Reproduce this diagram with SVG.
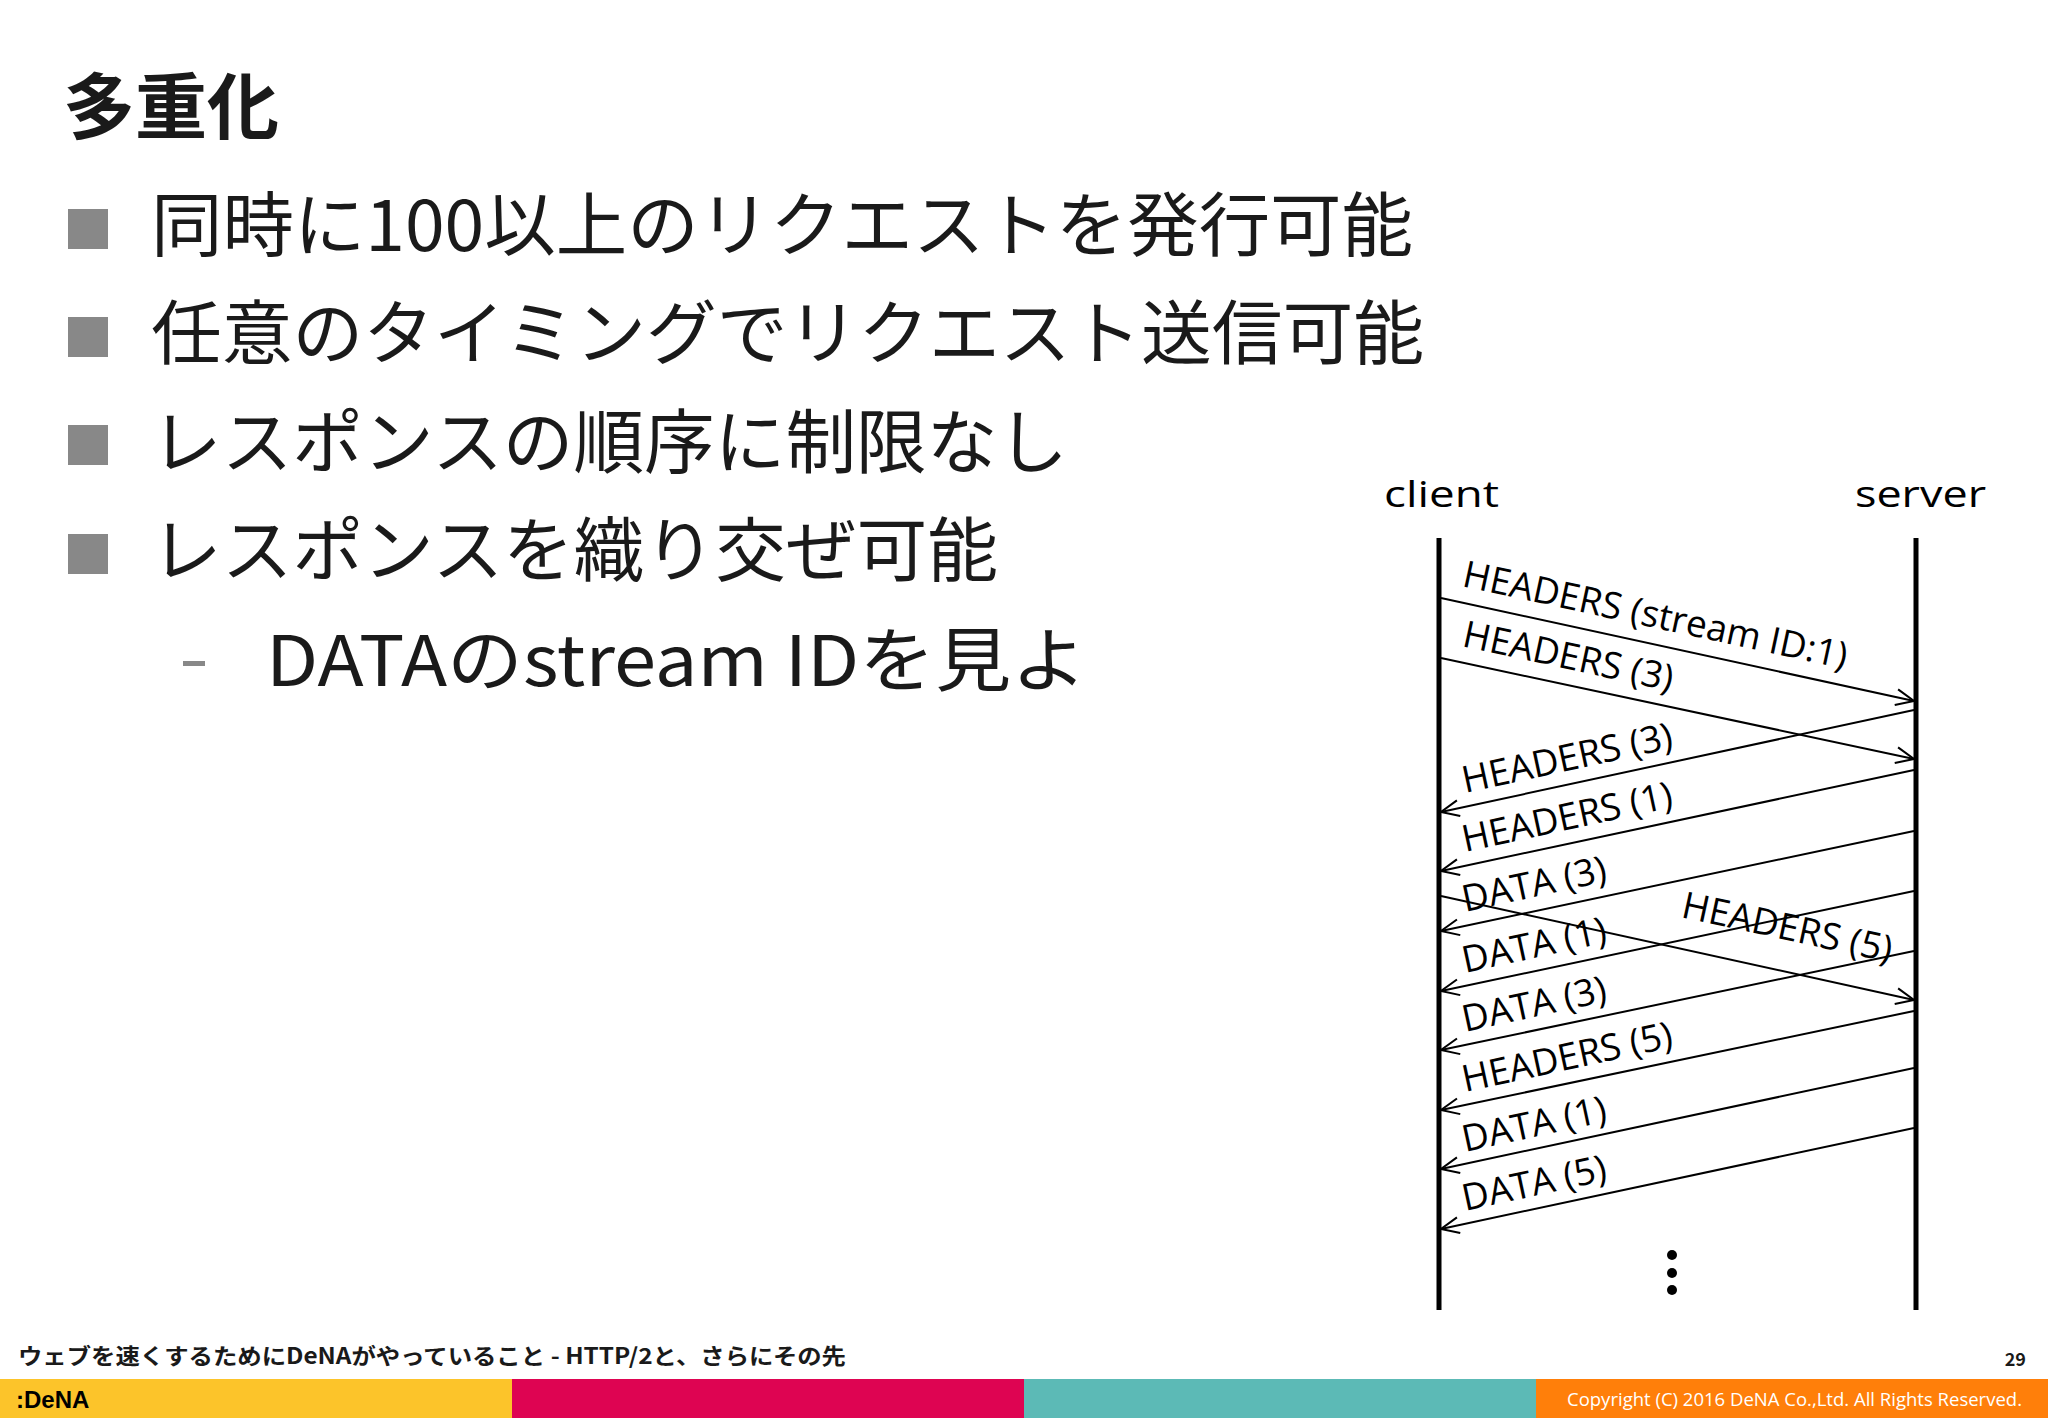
<svg xmlns="http://www.w3.org/2000/svg" width="2048" height="1418" viewBox="0 0 2048 1418">
<defs>
<style>
.jp{font-family:"Noto Sans CJK JP","Noto Sans",sans-serif;fill:#1a1a1a}
.b{font-size:70px}
.lbl{font-family:"Open Sans","Noto Sans",sans-serif;font-size:37px;fill:#000}
.ln{stroke:#000;stroke-width:2;fill:none;marker-end:url(#ah)}
.life{stroke:#000;stroke-width:5}
</style>
<marker id="ah" viewBox="0 0 20 20" refX="19" refY="10" markerWidth="20" markerHeight="20" markerUnits="userSpaceOnUse" orient="auto">
<path d="M1,2 L19,10 L1,18" fill="none" stroke="#000" stroke-width="2"/>
</marker>
</defs>
<rect width="2048" height="1418" fill="#fff"/>
<text class="jp" x="63" y="133" font-size="72" font-weight="bold" fill="#000">多重化</text>
<g id="bullets" class="jp">
<rect x="68" y="209" width="40" height="40" fill="#888"/>
<text class="jp b" x="151" y="251" textLength="1262" lengthAdjust="spacingAndGlyphs">同時に100以上のリクエストを発行可能</text>
<rect x="68" y="317" width="40" height="40" fill="#888"/>
<text class="jp b" x="151" y="359" textLength="1273" lengthAdjust="spacingAndGlyphs">任意のタイミングでリクエスト送信可能</text>
<rect x="68" y="425" width="40" height="40" fill="#888"/>
<text class="jp b" x="151" y="468" textLength="917" lengthAdjust="spacingAndGlyphs">レスポンスの順序に制限なし</text>
<rect x="68" y="534" width="40" height="40" fill="#888"/>
<text class="jp b" x="151" y="576" textLength="847" lengthAdjust="spacingAndGlyphs">レスポンスを織り交ぜ可能</text>
<rect x="183" y="661" width="22" height="5" fill="#888"/>
<text class="jp b" x="266" y="686" textLength="821" lengthAdjust="spacingAndGlyphs">DATAのstream IDを見よ</text>
</g>
<g id="client"><text class="lbl" x="1384" y="507" font-size="48" textLength="115" lengthAdjust="spacingAndGlyphs">client</text><line class="life" x1="1439" y1="538" x2="1439" y2="1310"/></g>
<g id="server"><text class="lbl" x="1855" y="507" font-size="48" textLength="131" lengthAdjust="spacingAndGlyphs">server</text><line class="life" x1="1916" y1="538" x2="1916" y2="1310"/></g>
<g id="connectors">
<line class="ln" x1="1441" y1="598" x2="1914" y2="701"/>
<line class="ln" x1="1441" y1="658" x2="1914" y2="759"/>
<line class="ln" x1="1914" y1="710" x2="1441" y2="812"/>
<line class="ln" x1="1914" y1="770" x2="1441" y2="871"/>
<line class="ln" x1="1914" y1="831" x2="1441" y2="931"/>
<line class="ln" x1="1441" y1="896" x2="1914" y2="1000"/>
<line class="ln" x1="1914" y1="891" x2="1441" y2="991"/>
<line class="ln" x1="1914" y1="951" x2="1441" y2="1050"/>
<line class="ln" x1="1914" y1="1011" x2="1441" y2="1110"/>
<line class="ln" x1="1914" y1="1068" x2="1441" y2="1169"/>
<line class="ln" x1="1914" y1="1128" x2="1441" y2="1229"/>
</g>
<g id="labels">
<text class="lbl" transform="translate(1461,586) rotate(12.2)">HEADERS (stream ID:1)</text>
<text class="lbl" transform="translate(1461,646) rotate(12.2)">HEADERS (3)</text>
<text class="lbl" transform="translate(1465,793) rotate(-12.2)">HEADERS (3)</text>
<text class="lbl" transform="translate(1465,852) rotate(-12.2)">HEADERS (1)</text>
<text class="lbl" transform="translate(1465,912) rotate(-12.2)">DATA (3)</text>
<text class="lbl" transform="translate(1465,973) rotate(-12.2)">DATA (1)</text>
<text class="lbl" transform="translate(1680,917) rotate(12.2)">HEADERS (5)</text>
<text class="lbl" transform="translate(1465,1032) rotate(-12.2)">DATA (3)</text>
<text class="lbl" transform="translate(1465,1092) rotate(-12.2)">HEADERS (5)</text>
<text class="lbl" transform="translate(1465,1152) rotate(-12.2)">DATA (1)</text>
<text class="lbl" transform="translate(1465,1211) rotate(-12.2)">DATA (5)</text>
</g>
<g id="dots" fill="#000"><circle cx="1672" cy="1255" r="5"/><circle cx="1672" cy="1273" r="5"/><circle cx="1672" cy="1290" r="5"/></g>
<g id="footer">
<text class="jp" x="18" y="1364" font-size="22" font-weight="bold" fill="#000" textLength="828" lengthAdjust="spacingAndGlyphs">ウェブを速くするためにDeNAがやっていること - HTTP/2と、さらにその先</text>
<text class="jp" x="2026" y="1366" font-size="18" font-weight="bold" fill="#000" text-anchor="end">29</text>
<rect x="0" y="1379" width="512" height="39" fill="#FCC42A"/>
<rect x="512" y="1379" width="512" height="39" fill="#DE0452"/>
<rect x="1024" y="1379" width="512" height="39" fill="#5CBAB6"/>
<rect x="1536" y="1379" width="512" height="39" fill="#FF7F0A"/>
<text x="16" y="1408" font-family="Liberation Sans,sans-serif" font-size="24" font-weight="bold" fill="#000">:DeNA</text>
<text x="1567" y="1406" font-family="Open Sans,sans-serif" font-size="18" fill="#fff" textLength="455" lengthAdjust="spacingAndGlyphs">Copyright (C) 2016 DeNA Co.,Ltd. All Rights Reserved.</text>
</g>
</svg>
